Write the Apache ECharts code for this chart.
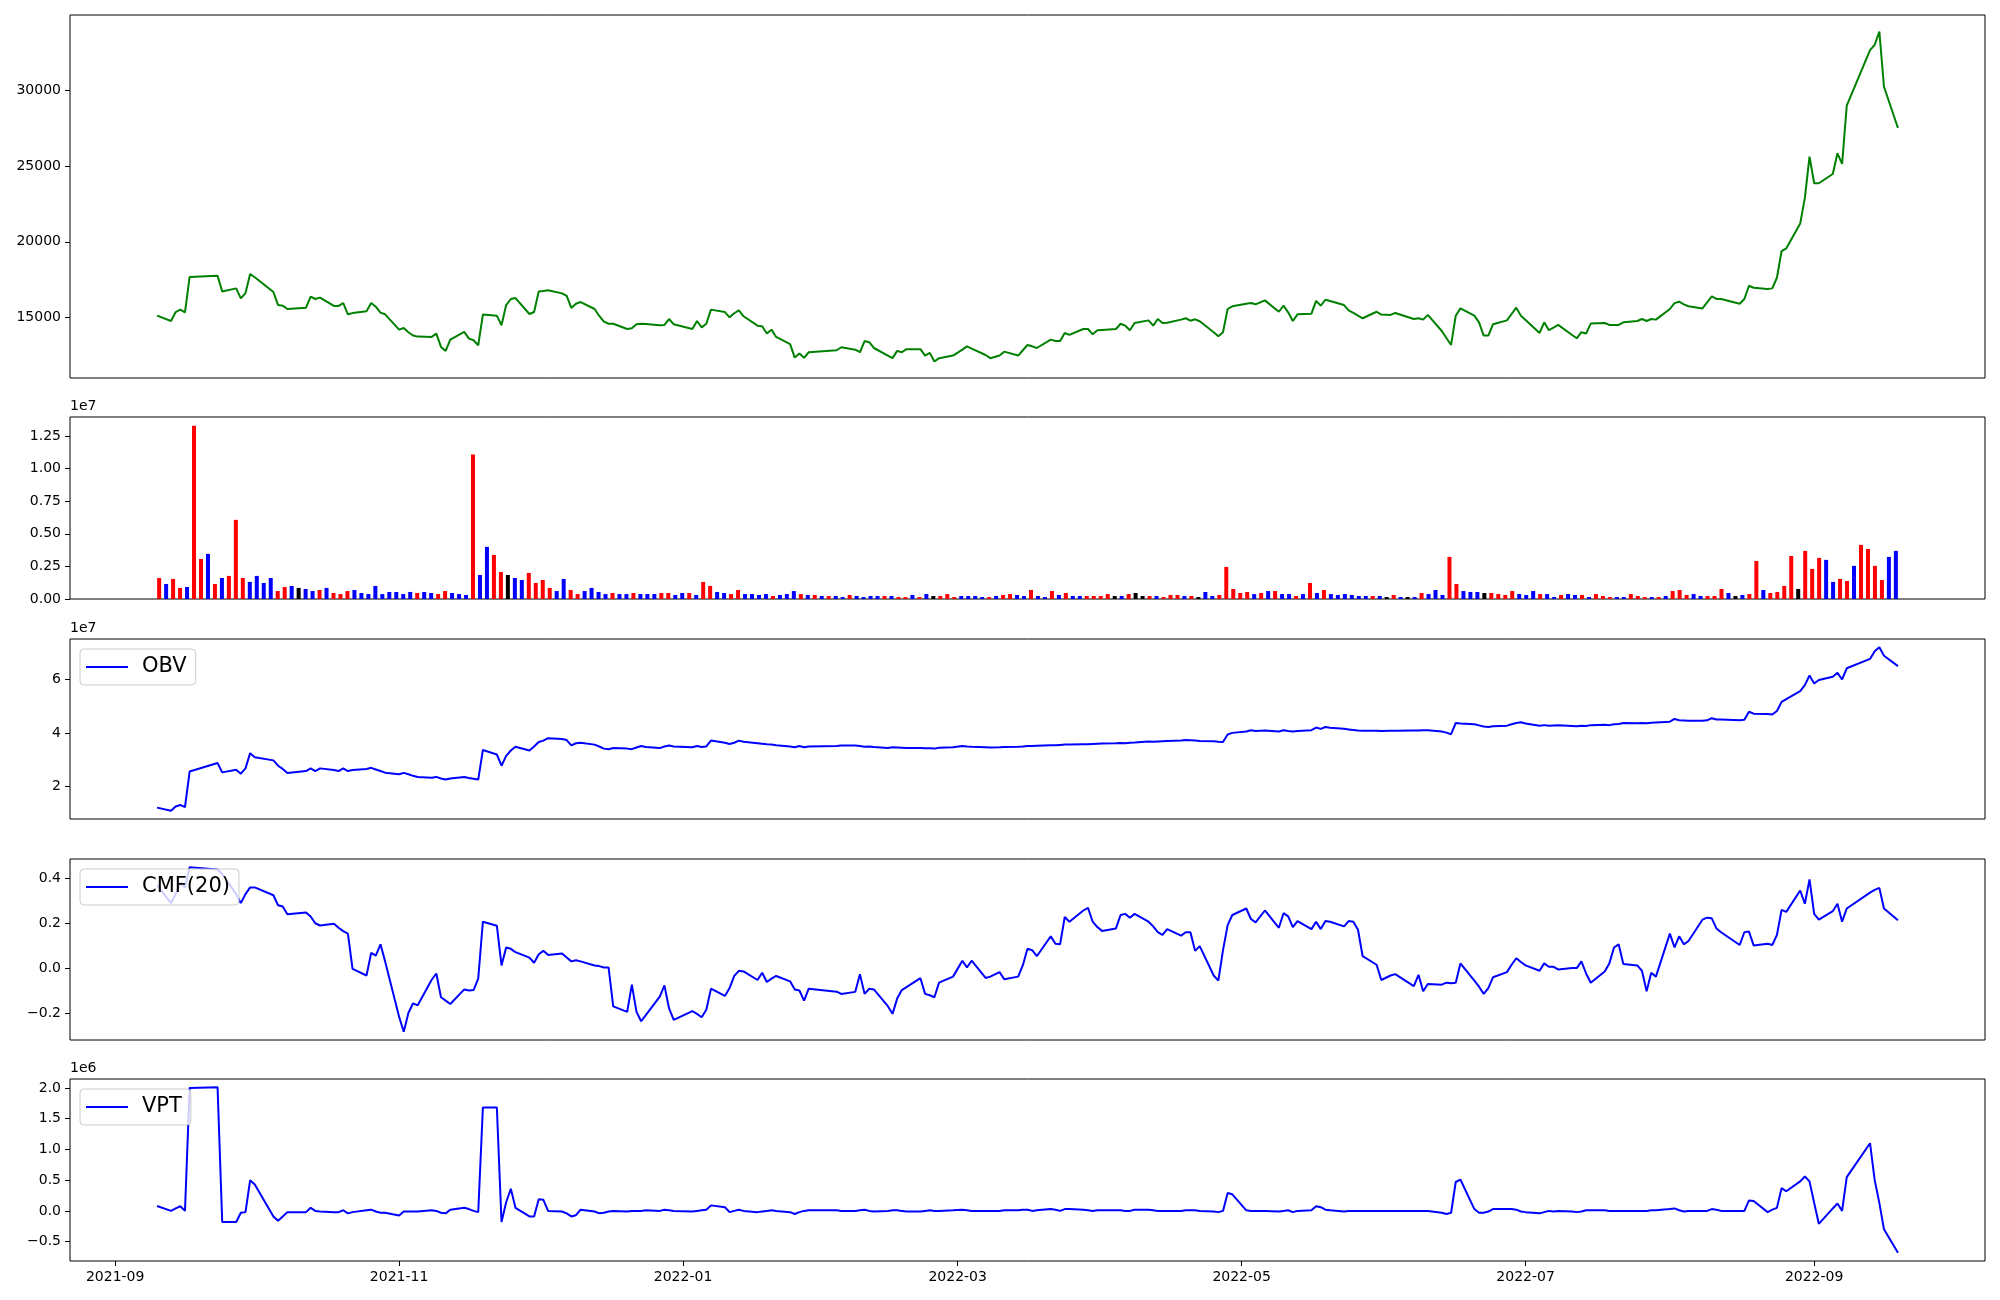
<!DOCTYPE html>
<html><head><meta charset="utf-8">
<script src="https://cdn.jsdelivr.net/npm/echarts@6/dist/echarts.min.js"></script>
<style>html,body{margin:0;padding:0;background:#fff}#chart{width:2000px;height:1300px}</style>
</head><body><div id="chart"></div>
<script>
// Trading days (categories), grouped by month
const tradingDays = [
 ['2021-09',[10,13,14,15,16,17,23,24,27,28,29,30]],
 ['2021-10',[1,5,6,7,8,12,13,14,15,18,19,20,21,22,25,26,27,28,29]],
 ['2021-11',[1,2,3,4,5,8,9,10,11,12,15,16,17,18,19,22,23,24,25,26,29,30]],
 ['2021-12',[1,2,3,6,7,8,9,10,13,14,15,16,17,20,21,22,23,24,27,28,29,30]],
 ['2022-01',[3,4,5,6,7,10,11,12,13,14,17,18,19,20,21,24,25,26,27,28]],
 ['2022-02',[3,4,7,8,9,10,11,14,15,16,17,18,21,22,23,24,25,28]],
 ['2022-03',[2,3,4,7,8,10,11,14,15,16,17,18,21,22,23,24,25,28,29,30,31]],
 ['2022-04',[1,4,5,6,7,8,11,12,13,14,15,18,19,20,21,22,25,26,27,28,29]],
 ['2022-05',[2,3,4,6,9,10,11,12,13,16,17,18,19,20,23,24,25,26,27,30,31]],
 ['2022-06',[2,3,7,8,9,10,13,14,15,16,17,20,21,22,23,24,27,28,29,30]],
 ['2022-07',[1,4,5,6,7,8,11,12,13,14,15,18,19,20,21,22,25,26,27,28,29]],
 ['2022-08',[1,2,3,4,5,8,9,10,11,12,16,17,18,19,22,23,24,25,26,29,30,31]],
 ['2022-09',[1,2,5,6,7,8,13,14,15,16,19]]
];

const price = [
 15130,14780,15370,15530,15350,17680,17760,16730,16930,16270,16620,17870,
 17660,16690,15830,15790,15570,15660,16380,16230,16320,15770,15770,15960,15220,15300,15420,15960,15720,15330,15220,
 14210,14320,14040,13820,13750,13730,13950,13070,12810,13550,14060,13620,13510,13180,15200,15130,14500,15830,16230,16290,15240,15370,
 16730,16760,16800,16600,16430,15640,15920,16030,15570,15110,14740,14600,14600,14250,14300,14560,14600,14580,14500,14520,14910,14560,
 14250,14780,14360,14600,15530,15370,15020,15290,15480,15090,14470,14430,13950,14210,13730,13250,12370,12630,12350,12720,
 12850,13050,12890,12720,13460,13380,13000,12500,12330,12810,12720,12920,12920,12500,12680,12110,12330,12500,
 12890,13110,12960,12540,12330,12500,12760,12500,12850,13200,13110,13000,13550,13460,13460,13990,13860,14250,14250,13900,14170,
 14190,14250,14600,14470,14170,14650,14820,14470,14910,14650,14670,14870,14960,14800,14890,14760,14040,13770,14040,15570,15750,
 15920,15960,15880,16140,15390,15790,15350,14780,15220,15260,16100,15790,16180,16100,15830,15480,15310,15130,14960,15390,15200,
 15180,15310,14910,14960,14870,15180,14120,13660,13200,15130,15610,15130,14690,13820,13820,14560,14820,15240,15660,15130,
 14850,13990,14690,14170,14340,14520,13860,13640,14040,13950,14610,14650,14520,14520,14520,14690,14780,14910,14780,14910,14870,
 15570,15960,16050,15880,15750,15610,16010,16400,16230,16230,15920,16230,17100,16970,16890,16930,17630,19390,19560,21200,22890,25610,
 23860,23860,24470,25830,25130,28970,32630,32980,33860,30220,27500
];

// Volume in units of 1e7
const volume = [
 .161,.115,.154,.085,.092,1.329,.307,.346,.115,.161,
 .177,.607,.161,.131,.177,.123,.161,.061,.092,.100,
 .085,.077,.061,.069,.085,.046,.038,.061,.069,.046,
 .038,.100,.038,.054,.054,.038,.054,.046,.054,.046,
 .038,.061,.046,.038,.031,1.107,.184,.400,.338,.207,
 .184,.161,.146,.200,.123,.146,.085,.061,.154,.069,
 .038,.061,.085,.054,.038,.046,.038,.038,.046,.038,
 .038,.038,.046,.046,.031,.046,.046,.031,.131,.100,
 .054,.046,.038,.069,.038,.038,.031,.038,.023,.031,
 .038,.061,.038,.031,.031,.023,.023,.023,.015,.031,
 .023,.015,.023,.023,.023,.023,.015,.015,.031,.015,
 .038,.023,.023,.038,.015,.023,.023,.023,.015,.015,
 .023,.031,.038,.031,.023,.069,.023,.015,.061,.031,
 .046,.023,.023,.023,.023,.023,.038,.023,.023,.038,
 .046,.023,.023,.023,.015,.031,.031,.023,.023,.015,
 .054,.023,.031,.246,.077,.046,.054,.038,.046,.061,
 .061,.038,.038,.023,.038,.123,.046,.069,.038,.031,
 .038,.031,.023,.023,.023,.023,.015,.031,.015,.015,
 .015,.046,.038,.069,.031,.323,.115,.061,.054,.054,
 .046,.046,.038,.031,.061,.038,.031,.061,.038,.038,
 .015,.031,.038,.031,.031,.015,.038,.023,.015,.015,
 .015,.038,.023,.015,.015,.015,.023,.061,.069,.031,
 .038,.023,.023,.023,.077,.046,.023,.031,.038,.292,
 .069,.046,.054,.100,.330,.077,.369,.231,.315,.300,
 .131,.154,.138,.254,.415,.384,.254,.146,.323,.369
];
// Bar colour code per day: R = red, B = blue, K = black
const volumeDir = [
 'RBRRBRRBRB','RRRBBBBRRB','KBBRBRRRBB','BBBBBBBRBB','RRBBBRBBRR',
 'KBBRRRRBBR','RBBBBRBBRB','BBRRBBRBRR','BBRRBBBBRB','BBRBRBRBBR',
 'BBBBRBRRBR','BKRRRBBBBR','BRRBBRBBRB','RBBRRRRKBR','KKRBRRRBRK',
 'BBRRRRRBRB','RBBRBRBRBB','BBBBRBKRBK','BRBBBRRBBB','KRRRRBBBRB',
 'BRBBRBRRRB','BRRRBRBRRR','BBRRRBKBRR','BRRRRKRRRB','BRRBRRRRBB'
].join('');

// OBV in units of 1e7
const obv = [
 1.21,1.09,1.25,1.31,1.23,2.56,2.88,2.53,2.63,2.48,2.68,3.25,
 3.10,2.98,2.78,2.66,2.51,2.58,2.68,2.58,2.68,2.62,2.58,2.68,2.58,2.62,2.66,2.70,2.64,2.58,2.52,
 2.46,2.51,2.46,2.40,2.36,2.33,2.36,2.30,2.26,2.30,2.36,2.32,2.29,2.26,3.37,3.20,2.78,3.15,3.35,3.49,3.35,3.50,
 3.67,3.72,3.81,3.78,3.74,3.54,3.62,3.64,3.57,3.50,3.42,3.40,3.44,3.42,3.40,3.46,3.52,3.48,3.44,3.50,3.54,3.50,
 3.47,3.52,3.48,3.50,3.72,3.64,3.59,3.64,3.72,3.68,3.62,3.60,3.58,3.57,3.55,3.50,3.47,3.52,3.47,3.50,
 3.52,3.54,3.54,3.52,3.49,3.50,3.48,3.44,3.47,3.46,3.45,3.44,3.44,3.43,3.43,3.42,3.45,3.47,
 3.52,3.50,3.49,3.47,3.46,3.47,3.48,3.49,3.50,3.52,3.52,3.53,3.55,3.55,3.56,3.57,3.57,3.58,3.58,3.59,3.60,
 3.61,3.62,3.63,3.62,3.64,3.65,3.69,3.68,3.69,3.70,3.71,3.72,3.74,3.73,3.72,3.71,3.70,3.68,3.67,3.95,4.01,
 4.06,4.11,4.08,4.10,4.06,4.11,4.08,4.06,4.08,4.11,4.21,4.16,4.23,4.20,4.16,4.14,4.12,4.10,4.09,4.09,4.08,
 4.09,4.09,4.10,4.10,4.11,4.11,4.06,4.02,3.96,4.38,4.36,4.33,4.29,4.25,4.23,4.26,4.28,4.33,4.38,4.41,
 4.36,4.28,4.30,4.28,4.29,4.30,4.27,4.26,4.28,4.27,4.30,4.31,4.30,4.33,4.34,4.38,4.37,4.38,4.37,4.39,4.40,
 4.43,4.53,4.48,4.47,4.46,4.46,4.48,4.56,4.51,4.51,4.48,4.50,4.80,4.73,4.72,4.70,4.83,5.17,5.27,5.57,5.80,6.16,
 5.86,5.99,6.11,6.26,6.01,6.43,6.78,7.07,7.22,6.90,6.51
];

const cmf = [
 0.37,0.29,0.33,0.38,0.36,0.45,0.44,0.42,0.33,0.29,0.33,0.36,
 0.36,0.325,0.28,0.275,0.24,0.248,0.23,0.20,0.19,0.198,0.18,0.165,0.154,-0.003,-0.033,0.068,0.056,0.106,0.03,
 -0.217,-0.284,-0.20,-0.157,-0.166,-0.052,-0.024,-0.13,-0.145,-0.16,-0.095,-0.10,-0.098,-0.047,0.207,0.189,0.012,0.092,0.086,0.071,0.047,0.024,
 0.062,0.077,0.059,0.065,0.047,0.030,0.035,0.030,0.012,0.009,0.003,0.003,-0.171,-0.195,-0.074,-0.195,-0.237,-0.21,-0.127,-0.077,-0.18,-0.231,
 -0.192,-0.204,-0.219,-0.186,-0.092,-0.124,-0.089,-0.035,-0.012,-0.015,-0.053,-0.021,-0.062,-0.047,-0.035,-0.059,-0.095,-0.10,-0.145,-0.092,
 -0.105,-0.115,-0.106,-0.027,-0.115,-0.092,-0.095,-0.17,-0.204,-0.136,-0.098,-0.085,-0.045,-0.115,-0.121,-0.13,-0.065,-0.038,
 0.033,0.003,0.033,-0.044,-0.038,-0.018,-0.050,-0.038,0.013,0.086,0.080,0.053,0.142,0.109,0.106,0.228,0.207,0.257,0.269,0.207,0.183,
 0.166,0.177,0.237,0.242,0.225,0.242,0.207,0.186,0.160,0.148,0.174,0.145,0.160,0.160,0.077,0.098,-0.033,-0.056,0.080,0.192,0.237,
 0.266,0.219,0.204,0.257,0.180,0.245,0.231,0.183,0.210,0.174,0.207,0.174,0.210,0.207,0.186,0.210,0.207,0.171,0.053,0.015,-0.053,
 -0.033,-0.027,-0.080,-0.030,-0.103,-0.071,-0.074,-0.065,-0.068,-0.065,0.021,-0.056,-0.083,-0.115,-0.089,-0.041,-0.018,0.015,0.044,0.027,
 0.012,-0.012,0.021,0.006,0.006,-0.006,0.0,0.0,0.030,-0.024,-0.065,-0.015,0.021,0.092,0.106,0.018,0.012,-0.012,-0.103,-0.021,-0.038,
 0.154,0.092,0.142,0.106,0.121,0.216,0.225,0.222,0.177,0.160,0.103,0.160,0.163,0.101,0.109,0.103,0.148,0.260,0.251,0.346,0.287,0.396,
 0.242,0.216,0.254,0.287,0.207,0.266,0.337,0.349,0.358,0.266,0.213
];

// VPT in units of 1e6
const vpt = [
 0.08,0.0,0.04,0.076,0.0,2.0,2.01,-0.18,-0.18,-0.03,-0.02,0.50,
 0.43,-0.09,-0.16,-0.09,-0.02,-0.02,0.05,0.0,-0.01,-0.02,-0.02,0.01,-0.04,-0.02,0.01,0.02,-0.01,-0.03,-0.03,
 -0.075,-0.01,-0.01,-0.01,-0.01,0.01,0.0,-0.03,-0.04,0.02,0.05,0.03,0.0,-0.02,1.68,1.68,-0.18,0.14,0.36,0.05,-0.09,-0.09,
 0.19,0.18,0.0,-0.01,-0.04,-0.09,-0.07,0.02,-0.01,-0.04,-0.03,-0.01,0.0,-0.01,0.0,0.0,0.0,0.01,0.0,0.02,0.01,0.0,
 -0.01,0.0,0.01,0.02,0.09,0.06,-0.02,0.0,0.02,0.0,-0.02,-0.01,0.0,0.01,0.0,-0.02,-0.05,-0.02,0.0,0.01,
 0.01,0.0,0.0,0.01,0.02,0.0,-0.01,0.0,0.01,0.01,0.0,-0.01,-0.01,0.0,0.01,0.0,0.0,0.01,
 0.02,0.01,0.0,0.0,0.0,0.0,0.01,0.01,0.02,0.02,0.0,0.01,0.03,0.02,0.0,0.03,0.03,0.02,0.01,0.0,0.01,
 0.01,0.01,0.01,0.0,0.0,0.02,0.02,0.01,0.0,0.0,0.0,0.0,0.01,0.01,0.01,0.0,-0.01,-0.02,0.0,0.29,0.27,
 0.01,0.0,0.0,0.0,-0.01,0.0,0.01,-0.02,0.0,0.01,0.076,0.06,0.02,0.01,-0.01,0.0,0.0,0.0,0.0,0.0,0.0,
 0.0,0.0,0.0,0.0,0.0,0.0,-0.03,-0.05,-0.03,0.47,0.51,0.03,-0.03,-0.03,-0.01,0.03,0.03,0.03,0.02,-0.01,
 -0.02,-0.04,-0.02,0.0,-0.01,0.0,-0.01,-0.02,-0.01,0.01,0.01,0.01,0.0,0.0,0.0,0.0,0.0,0.0,0.0,0.01,0.01,
 0.03,0.04,0.01,-0.01,0.0,0.0,0.0,0.03,0.02,0.0,0.0,0.0,0.17,0.16,-0.02,0.02,0.05,0.37,0.32,0.48,0.56,0.48,
 0.13,-0.21,0.04,0.12,0.0,0.55,1.10,0.50,0.13,-0.30,-0.68
];

const xTickLabels = ['2021-09','2021-11','2022-01','2022-03','2022-05','2022-07','2022-09'];
const priceTicks = [15000,20000,25000,30000];
const volumeTicks = [0,0.25,0.5,0.75,1.0,1.25];
const obvTicks = [2,4,6];
const cmfTicks = [-0.2,0,0.2,0.4];
const vptTicks = [-0.5,0,0.5,1.0,1.5,2.0];

// ---- build ----
const DAY = 86400000;
const dates = [];
tradingDays.forEach(([ym, days]) => {
  const [y, m] = ym.split('-').map(Number);
  days.forEach(d => dates.push(Date.UTC(y, m - 1, d) / DAY));
});
const xTickValues = xTickLabels.map(s => { const [y,m] = s.split('-').map(Number); return Date.UTC(y, m - 1, 1) / DAY; });
const t0 = dates[0], t1 = dates[dates.length - 1], tspan = t1 - t0;
const xMin = t0 - 0.05 * tspan, xMax = t1 + 0.05 * tspan;
function padRange(arr) { const mn = Math.min(...arr), mx = Math.max(...arr), r = mx - mn; return [mn - 0.05 * r, mx + 0.05 * r]; }
const pr = padRange(price), orr = padRange(obv), cr = padRange(cmf), vr = padRange(vpt);
const nV = volume.length;
const vxMin = -0.3 - 0.05 * (nV - 1 + 0.6), vxMax = (nV - 1) + 0.3 + 0.05 * (nV - 1 + 0.6);
const volMax = Math.max(...volume) * 1.05;
const colorMap = { R: '#ff0000', B: '#0000ff', K: '#000000' };
const minus = s => s.replace('-', '\u2212');

const FONT = 'DejaVu Sans';
const grids = [
  { left: 70, top: 15, width: 1915, height: 363 },
  { left: 70, top: 417, width: 1915, height: 182 },
  { left: 70, top: 639, width: 1915, height: 180 },
  { left: 70, top: 859, width: 1915, height: 181 },
  { left: 70, top: 1079, width: 1915, height: 182 }
].map(g => Object.assign(g, { show: true, borderColor: '#000', borderWidth: 1, backgroundColor: 'transparent', containLabel: false }));

function yAxis(idx, min, max, ticks, fmt) {
  return {
    type: 'value', gridIndex: idx, min: min, max: max, position: 'left',
    splitLine: { show: false }, axisLine: { show: false, onZero: false },
    axisTick: { show: true, length: 5, lineStyle: { color: '#000', width: 1 }, customValues: ticks },
    axisLabel: { show: true, customValues: ticks, formatter: fmt, fontFamily: FONT, fontSize: 14, color: '#000', margin: 9 }
  };
}
function dayX(idx, showLabels) {
  return {
    type: 'value', gridIndex: idx, min: xMin, max: xMax, position: 'bottom',
    splitLine: { show: false }, axisLine: { show: false, onZero: false },
    axisTick: { show: showLabels, length: 5, lineStyle: { color: '#000', width: 1 }, customValues: xTickValues },
    axisLabel: {
      show: showLabels, customValues: xTickValues, fontFamily: FONT, fontSize: 14, color: '#000', margin: 9,
      formatter: v => { const i = xTickValues.indexOf(v); return i >= 0 ? xTickLabels[i] : ''; }
    }
  };
}

const legendBase = {
  orient: 'horizontal', backgroundColor: 'rgba(255,255,255,0.8)', borderColor: '#cccccc', borderWidth: 1, borderRadius: 4,
  padding: [7, 9, 7, 6], itemWidth: 42, itemHeight: 2, icon: 'rect', selectedMode: false,
  textStyle: { fontFamily: FONT, fontSize: 21, color: '#000', padding: [0, 0, 0, 9], lineHeight: 22 }
};

const option = {
  animation: false,
  backgroundColor: '#ffffff',
  textStyle: { fontFamily: FONT },
  grid: grids,
  legend: [
    Object.assign({}, legendBase, { data: ['OBV'], left: 80, top: 649 }),
    Object.assign({}, legendBase, { data: ['CMF(20)'], left: 80, top: 869 }),
    Object.assign({}, legendBase, { data: ['VPT'], left: 80, top: 1089 })
  ],
  xAxis: [
    dayX(0, false),
    { type: 'value', gridIndex: 1, min: vxMin, max: vxMax, show: false, position: 'bottom', axisLine: { show: false, onZero: false }, splitLine: { show: false } },
    dayX(2, false),
    dayX(3, false),
    dayX(4, true)
  ],
  yAxis: [
    yAxis(0, pr[0], pr[1], priceTicks, v => String(Math.round(v))),
    yAxis(1, 0, volMax, volumeTicks, v => v.toFixed(2)),
    yAxis(2, orr[0], orr[1], obvTicks, v => String(Math.round(v))),
    yAxis(3, cr[0], cr[1], cmfTicks, v => minus(v.toFixed(1))),
    yAxis(4, vr[0], vr[1], vptTicks, v => minus(v.toFixed(1)))
  ],
  graphic: [
    { type: 'text', left: 70, top: 399, style: { text: '1e7', font: '14px "DejaVu Sans"', fill: '#000' } },
    { type: 'text', left: 70, top: 621, style: { text: '1e7', font: '14px "DejaVu Sans"', fill: '#000' } },
    { type: 'text', left: 70, top: 1061, style: { text: '1e6', font: '14px "DejaVu Sans"', fill: '#000' } }
  ],
  series: [
    { name: 'Close', type: 'line', xAxisIndex: 0, yAxisIndex: 0, symbol: 'none', color: '#008000',
      lineStyle: { color: '#008000', width: 2 }, data: dates.map((t, i) => [t, price[i]]) },
    { name: 'Volume', type: 'bar', xAxisIndex: 1, yAxisIndex: 1, barWidth: 4,
      data: volume.map((v, i) => ({ value: [i, v], itemStyle: { color: colorMap[volumeDir[i]] } })) },
    { name: 'OBV', type: 'line', xAxisIndex: 2, yAxisIndex: 2, symbol: 'none', color: '#0000ff',
      lineStyle: { color: '#0000ff', width: 2 }, data: dates.map((t, i) => [t, obv[i]]) },
    { name: 'CMF(20)', type: 'line', xAxisIndex: 3, yAxisIndex: 3, symbol: 'none', color: '#0000ff',
      lineStyle: { color: '#0000ff', width: 2 }, data: dates.map((t, i) => [t, cmf[i]]) },
    { name: 'VPT', type: 'line', xAxisIndex: 4, yAxisIndex: 4, symbol: 'none', color: '#0000ff',
      lineStyle: { color: '#0000ff', width: 2 }, data: dates.map((t, i) => [t, vpt[i]]) }
  ]
};
const chart = echarts.init(document.getElementById('chart'), null, { renderer: 'canvas', width: 2000, height: 1300 });
chart.setOption(option);
</script>
</body></html>
